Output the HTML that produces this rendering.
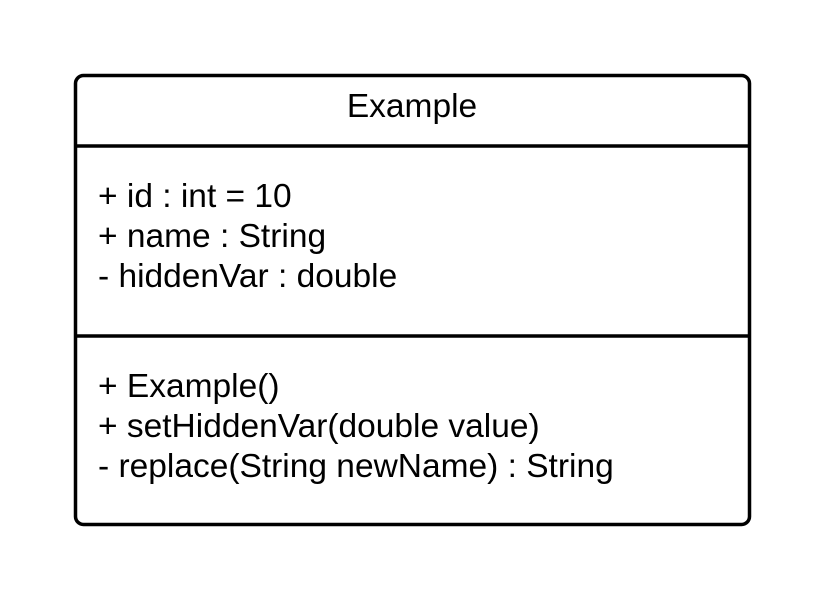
<!DOCTYPE html>
<html><head><style>html,body{margin:0;padding:0;background:#fff}</style></head>
<body>
<svg width="825" height="600" xmlns="http://www.w3.org/2000/svg" font-family="Liberation Sans, sans-serif" font-size="33.5" fill="#000">
<rect x="75.5" y="75.5" width="674" height="449" rx="8" ry="8" fill="#fff" stroke="#000" stroke-width="3.5"/>
<line x1="75" y1="146" x2="750" y2="146" stroke="#000" stroke-width="3.5"/>
<line x1="75" y1="336" x2="750" y2="336" stroke="#000" stroke-width="3.5"/>
<text x="412" y="117" text-anchor="middle">Example</text>
<text x="98" y="207">+ id : int = 10</text>
<text x="98" y="247">+ name : String</text>
<text x="98" y="287">- hiddenVar : double</text>
<text x="98" y="397">+ Example()</text>
<text x="98" y="437">+ setHiddenVar(double value)</text>
<text x="98" y="477">- replace(String newName) : String</text>
</svg>
</body></html>
